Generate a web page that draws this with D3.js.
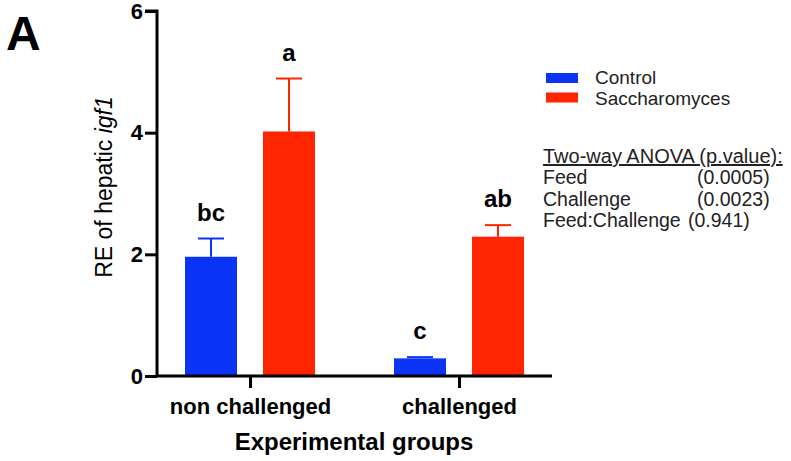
<!DOCTYPE html>
<html><head><meta charset="utf-8">
<script src="https://cdn.jsdelivr.net/npm/d3@7"></script>
<style>body{margin:0;background:#fff;font-family:"Liberation Sans",Arial,sans-serif}</style>
</head><body><svg id="c" width="791" height="461" style="font-family:'Liberation Sans',Arial,sans-serif"></svg>
<script>
const categories = ["non challenged", "challenged"];
const seriesNames = ["Control", "Saccharomyces"];
const controlValues = [1.96, 0.29];
const controlErrors = [0.30, 0.02];
const saccValues = [4.02, 2.29];
const saccErrors = [0.87, 0.19];
const controlLetters = ["bc", "c"];
const saccLetters = ["a", "ab"];
const yTicks = [0, 2, 4, 6];
const anovaLabels = ["Feed", "Challenge", "Feed:Challenge"];
const anovaValues = ["(0.0005)", "(0.0023)", "(0.941)"];
const colors = ["#0b33f5", "#ff2500"];
const FONT = "Liberation Sans, Arial, sans-serif";

const svg = d3.select("#c");
const x0 = 157, x1 = 552, yTop = 11, yBot = 376;
const y = d3.scaleLinear().domain([0, 6]).range([yBot, yTop]);
const xc = d3.scalePoint().domain(categories).range([250, 459]);
const xs = d3.scaleBand().domain(seriesNames).range([-65, 65]).paddingInner(1 / 3).paddingOuter(0);

const series = [
  {name: seriesNames[0], vals: controlValues, errs: controlErrors, letters: controlLetters},
  {name: seriesNames[1], vals: saccValues, errs: saccErrors, letters: saccLetters}
];

series.forEach((s, si) => {
  const g = svg.append("g");
  categories.forEach((c, ci) => {
    const bx = xc(c) + xs(s.name), bw = xs.bandwidth();
    const cx = bx + bw / 2;
    const top = s.vals[ci] + s.errs[ci];
    g.append("line").attr("x1", cx).attr("x2", cx).attr("y1", y(s.vals[ci])).attr("y2", y(top))
      .attr("stroke", colors[si]).attr("stroke-width", 2);
    g.append("line").attr("x1", cx - 13).attr("x2", cx + 13).attr("y1", y(top)).attr("y2", y(top))
      .attr("stroke", colors[si]).attr("stroke-width", 2);
    g.append("rect").attr("x", bx).attr("width", bw).attr("y", y(s.vals[ci]))
      .attr("height", y(0) - y(s.vals[ci])).attr("fill", colors[si]);
    g.append("text").attr("x", cx).attr("y", y(top) - 18).attr("text-anchor", "middle")
      .attr("font-size", 24).attr("font-weight", "bold").text(s.letters[ci]);
  });
});

// axes
const yAxis = d3.axisLeft(y).tickValues(yTicks).tickSize(12).tickPadding(2).tickFormat(d3.format("d"));
const gy = svg.append("g").attr("transform", `translate(${x0},0)`).call(yAxis);
gy.select(".domain").attr("stroke-width", 3).attr("d", `M-12,${yTop}H0V${yBot}`);
gy.selectAll(".tick line").attr("stroke-width", 3);
gy.selectAll(".tick text").attr("font-size", 22).attr("font-weight", "bold").attr("font-family", FONT);

const xAxis = d3.axisBottom(xc).tickSize(12).tickPadding(10);
const gx = svg.append("g").attr("transform", `translate(0,${yBot})`).call(xAxis);
gx.select(".domain").attr("stroke-width", 3).attr("d", `M${x0},0H${x1}`);
gx.selectAll(".tick line").attr("stroke-width", 3);
gx.selectAll(".tick text").attr("font-size", 22).attr("font-weight", "bold").attr("font-family", FONT);

svg.append("text").attr("x", 354).attr("y", 450).attr("text-anchor", "middle")
  .attr("font-size", 24).attr("font-weight", "bold").text("Experimental groups");

const yl = svg.append("text").attr("transform", "translate(112,187) rotate(-90)")
  .attr("text-anchor", "middle").attr("font-size", 23);
yl.append("tspan").text("RE of hepatic ");
yl.append("tspan").attr("font-style", "italic").text("igf1");

svg.append("text").attr("x", 6).attr("y", 50).attr("font-size", 48).attr("font-weight", "bold").text("A");

// legend
seriesNames.forEach((n, i) => {
  svg.append("rect").attr("x", 546).attr("y", 73 + i * 19.5).attr("width", 32).attr("height", 10).attr("fill", colors[i]);
  svg.append("text").attr("x", 595).attr("y", 84 + i * 20.5).attr("font-size", 19).attr("fill", "#222").text(n);
});

svg.append("text").attr("x", 543).attr("y", 163).attr("font-size", 20).attr("fill", "#222")
  .attr("text-decoration", "underline").text("Two-way ANOVA (p.value):");
anovaLabels.forEach((l, i) => {
  svg.append("text").attr("x", 543).attr("y", 184 + i * 21.5).attr("font-size", 19.5).attr("fill", "#222").text(l);
  svg.append("text").attr("x", i === 2 ? 688 : 697).attr("y", 184 + i * 21.5).attr("font-size", 19.5).attr("fill", "#222").text(anovaValues[i]);
});
</script></body></html>
